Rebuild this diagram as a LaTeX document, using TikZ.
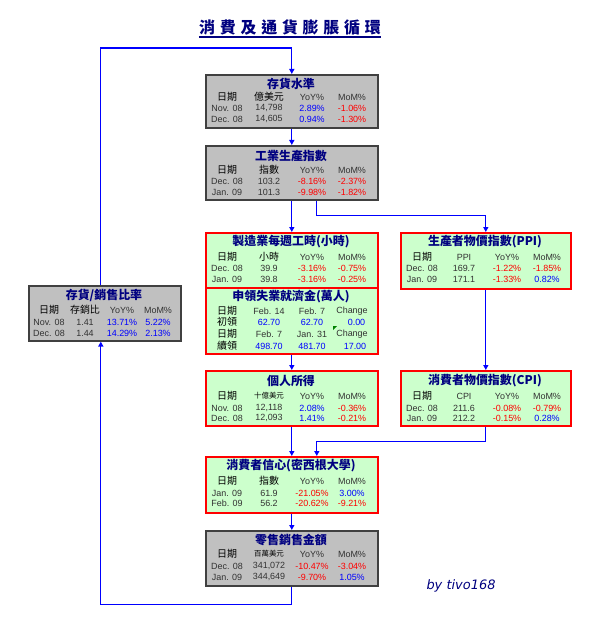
\documentclass[tikz,border=0pt]{standalone}
\usepackage{fontspec}
\setmainfont{Liberation Sans}
\newfontfamily\cjk{Noto Sans CJK TC}
\newfontfamily\titlefont[LetterSpace=30]{Noto Sans CJK TC}
\newfontfamily\signfont{DejaVu Sans}
\usetikzlibrary{arrows.meta}

\definecolor{boxgray}{RGB}{192,192,192}
\definecolor{boxgreen}{RGB}{204,255,204}
\definecolor{titleblue}{RGB}{0,0,128}
\definecolor{valblue}{RGB}{0,0,255}
\definecolor{valred}{RGB}{255,0,0}

\newcommand\bluetxt[1]{\textcolor{valblue}{#1}}
\newcommand\redtxt[1]{\textcolor{valred}{#1}}
\newcommand\zh[1]{{\cjk\fontsize{10}{10}\selectfont\color{black} #1}}
\newcommand\zhsmall[1]{{\cjk\fontsize{7.5}{7.5}\selectfont\color{black} #1}}

% one row of a wide box: name, left x, y, four cells
\newcommand\boxrow[7]{%
  \node[cell] (#1-1) at (#2+22,#3) {#4};
  \node[cell] (#1-2) at (#2+64,#3) {#5};
  \node[cell] (#1-3) at (#2+107,#3) {#6};
  \node[cell] (#1-4) at (#2+147,#3) {#7};}
% one row of the narrow box
\newcommand\smallrow[7]{%
  \node[cell] (#1-1) at (#2+21,#3) {#4};
  \node[cell] (#1-2) at (#2+57,#3) {#5};
  \node[cell] (#1-3) at (#2+94,#3) {#6};
  \node[cell] (#1-4) at (#2+130,#3) {#7};}

\tikzset{
  cell/.style={inner sep=0pt, font=\fontsize{9}{9}\selectfont, text=black!80},
  boxtitle/.style={inner sep=0pt, font=\cjk\bfseries\fontsize{12}{12}\selectfont, text=titleblue},
  graybox/.style={draw=black!75, line width=1.6bp, fill=boxgray, anchor=north west, inner sep=0pt},
  greenbox/.style={draw=valred, line width=1.6bp, fill=boxgreen, anchor=north west, inner sep=0pt},
  flow/.style={draw=valblue, line width=1.3bp, -{Triangle[length=5bp,width=5bp]}},
}

\begin{document}
\begin{tikzpicture}[x=1bp, y=-1bp]
  \fill[white] (0,0) rectangle (596,640);
  \useasboundingbox (0,0) rectangle (596,640);

  % Title
  \node[inner sep=0pt, font=\titlefont\bfseries\fontsize{16}{16}\selectfont, text=titleblue] (title) at (290,28) {消費及通貨膨脹循環};
  \draw[titleblue, line width=1.2bp] ([yshift=-1bp]title.south west) -- ([yshift=-1bp]title.south east);

  % Inventory
  \node[graybox, minimum width=172bp, minimum height=53bp] (inv) at (205,74) {};
  \node[boxtitle] (inv-t) at (291,84) {存貨水準};
  \boxrow{inv-h}{205}{97}{\zh{日期}}{\zh{億美元}}{YoY\%}{MoM\%}
  \boxrow{inv-a}{205}{108}{Nov. 08}{14,798}{\bluetxt{2.89\%}}{\redtxt{-1.06\%}}
  \boxrow{inv-b}{205}{119}{Dec. 08}{14,605}{\bluetxt{0.94\%}}{\redtxt{-1.30\%}}

  % Industrial production
  \node[graybox, minimum width=172bp, minimum height=54bp] (ipi) at (205,145) {};
  \node[boxtitle] (ipi-t) at (291,156) {工業生產指數};
  \boxrow{ipi-h}{205}{170}{\zh{日期}}{\zh{指數}}{YoY\%}{MoM\%}
  \boxrow{ipi-a}{205}{181}{Dec. 08}{103.2}{\redtxt{-8.16\%}}{\redtxt{-2.37\%}}
  \boxrow{ipi-b}{205}{192}{Jan. 09}{101.3}{\redtxt{-9.98\%}}{\redtxt{-1.82\%}}

  % Weekly hours
  \node[greenbox, minimum width=172bp, minimum height=55bp] (mfg) at (205,232) {};
  \node[boxtitle] (mfg-t) at (291,242) {製造業每週工時(小時)};
  \boxrow{mfg-h}{205}{257}{\zh{日期}}{\zh{小時}}{YoY\%}{MoM\%}
  \boxrow{mfg-a}{205}{268}{Dec. 08}{39.9}{\redtxt{-3.16\%}}{\redtxt{-0.75\%}}
  \boxrow{mfg-b}{205}{279}{Jan. 09}{39.8}{\redtxt{-3.16\%}}{\redtxt{-0.25\%}}

  % Jobless claims
  \node[greenbox, minimum width=172bp, minimum height=66bp] (ui) at (205,287) {};
  \node[boxtitle] (ui-t) at (291,297) {申領失業就濟金(萬人)};
  \boxrow{ui-h}{205}{311}{\zh{日期}}{Feb. 14}{Feb. 7}{Change}
  \boxrow{ui-a}{205}{322}{\zh{初領}}{\bluetxt{62.70}}{\bluetxt{62.70}}{\bluetxt{\hspace{9bp}0.00}}
  \boxrow{ui-k}{205}{334}{\zh{日期}}{Feb. 7}{Jan. 31}{Change}
  \boxrow{ui-b}{205}{346}{\zh{續領}}{\bluetxt{498.70}}{\bluetxt{481.70}}{\bluetxt{\hspace{6bp}17.00}}
  \fill[green!50!black] (333,326) -- (337,326) -- (333,330) -- cycle;

  % PPI
  \node[greenbox, minimum width=170bp, minimum height=56bp] (ppi) at (400,232) {};
  \node[boxtitle] (ppi-t) at (485,242) {生產者物價指數(PPI)};
  \boxrow{ppi-h}{400}{257}{\zh{日期}}{PPI}{YoY\%}{MoM\%}
  \boxrow{ppi-a}{400}{268}{Dec. 08}{169.7}{\redtxt{-1.22\%}}{\redtxt{-1.85\%}}
  \boxrow{ppi-b}{400}{279}{Jan. 09}{171.1}{\redtxt{-1.33\%}}{\bluetxt{0.82\%}}

  % Inventory / sales
  \node[graybox, minimum width=152bp, minimum height=55bp] (isr) at (28,285) {};
  \node[boxtitle] (isr-t) at (104,295) {存貨/銷售比率};
  \smallrow{isr-h}{28}{310}{\zh{日期}}{\zh{存銷比}}{YoY\%}{MoM\%}
  \smallrow{isr-a}{28}{322}{Nov. 08}{1.41}{\bluetxt{13.71\%}}{\bluetxt{5.22\%}}
  \smallrow{isr-b}{28}{333}{Dec. 08}{1.44}{\bluetxt{14.29\%}}{\bluetxt{2.13\%}}

  % Personal income
  \node[greenbox, minimum width=172bp, minimum height=55bp] (pi) at (205,370) {};
  \node[boxtitle] (pi-t) at (291,381) {個人所得};
  \boxrow{pi-h}{205}{396}{\zh{日期}}{\zhsmall{十億美元}}{YoY\%}{MoM\%}
  \boxrow{pi-a}{205}{408}{Nov. 08}{12,118}{\bluetxt{2.08\%}}{\redtxt{-0.36\%}}
  \boxrow{pi-b}{205}{418}{Dec. 08}{12,093}{\bluetxt{1.41\%}}{\redtxt{-0.21\%}}

  % CPI
  \node[greenbox, minimum width=170bp, minimum height=55bp] (cpi) at (400,370) {};
  \node[boxtitle] (cpi-t) at (485,381) {消費者物價指數(CPI)};
  \boxrow{cpi-h}{400}{396}{\zh{日期}}{CPI}{YoY\%}{MoM\%}
  \boxrow{cpi-a}{400}{408}{Dec. 08}{211.6}{\redtxt{-0.08\%}}{\redtxt{-0.79\%}}
  \boxrow{cpi-b}{400}{418}{Jan. 09}{212.2}{\redtxt{-0.15\%}}{\bluetxt{0.28\%}}

  % Consumer sentiment
  \node[greenbox, minimum width=172bp, minimum height=56bp] (cons) at (205,456) {};
  \node[boxtitle] (cons-t) at (291,466) {消費者信心(密西根大學)};
  \boxrow{cons-h}{205}{481}{\zh{日期}}{\zh{指數}}{YoY\%}{MoM\%}
  \boxrow{cons-a}{205}{493}{Jan. 09}{61.9}{\redtxt{-21.05\%}}{\bluetxt{3.00\%}}
  \boxrow{cons-b}{205}{503}{Feb. 09}{56.2}{\redtxt{-20.62\%}}{\redtxt{-9.21\%}}

  % Retail sales
  \node[graybox, minimum width=172bp, minimum height=55bp] (ret) at (205,530) {};
  \node[boxtitle] (ret-t) at (291,540) {零售銷售金額};
  \boxrow{ret-h}{205}{554}{\zh{日期}}{\zhsmall{百萬美元}}{YoY\%}{MoM\%}
  \boxrow{ret-a}{205}{566}{Dec. 08}{341,072}{\redtxt{-10.47\%}}{\redtxt{-3.04\%}}
  \boxrow{ret-b}{205}{577}{Jan. 09}{344,649}{\redtxt{-9.70\%}}{\bluetxt{1.05\%}}

  % Signature
  \node[inner sep=0pt, font=\signfont\itshape\fontsize{13}{13}\selectfont, text=titleblue] (sign) at (461,586) {by tivo168};

  % Arrows
  \draw[flow] ([xshift=-4bp]isr.north) |- ([yshift=26bp]inv.north) -- (inv.north);
  \draw[flow] (inv.south) -- (ipi.north);
  \draw[flow] (ipi.south) -- (mfg.north);
  \draw[flow] ([xshift=25bp]ipi.south) -- ++(0,15) -| (ppi.north);
  \draw[flow] (ui.south) -- (pi.north);
  \draw[flow] (ppi.south) -- (cpi.north);
  \draw[flow] (pi.south) -- (cons.north);
  \draw[flow] (cpi.south) -- ++(0,15) -| ([xshift=25bp]cons.north);
  \draw[flow] (cons.south) -- (ret.north);
  \draw[flow] (ret.south) -- ++(0,18) -| ([xshift=-4bp]isr.south);
\end{tikzpicture}
\end{document}
